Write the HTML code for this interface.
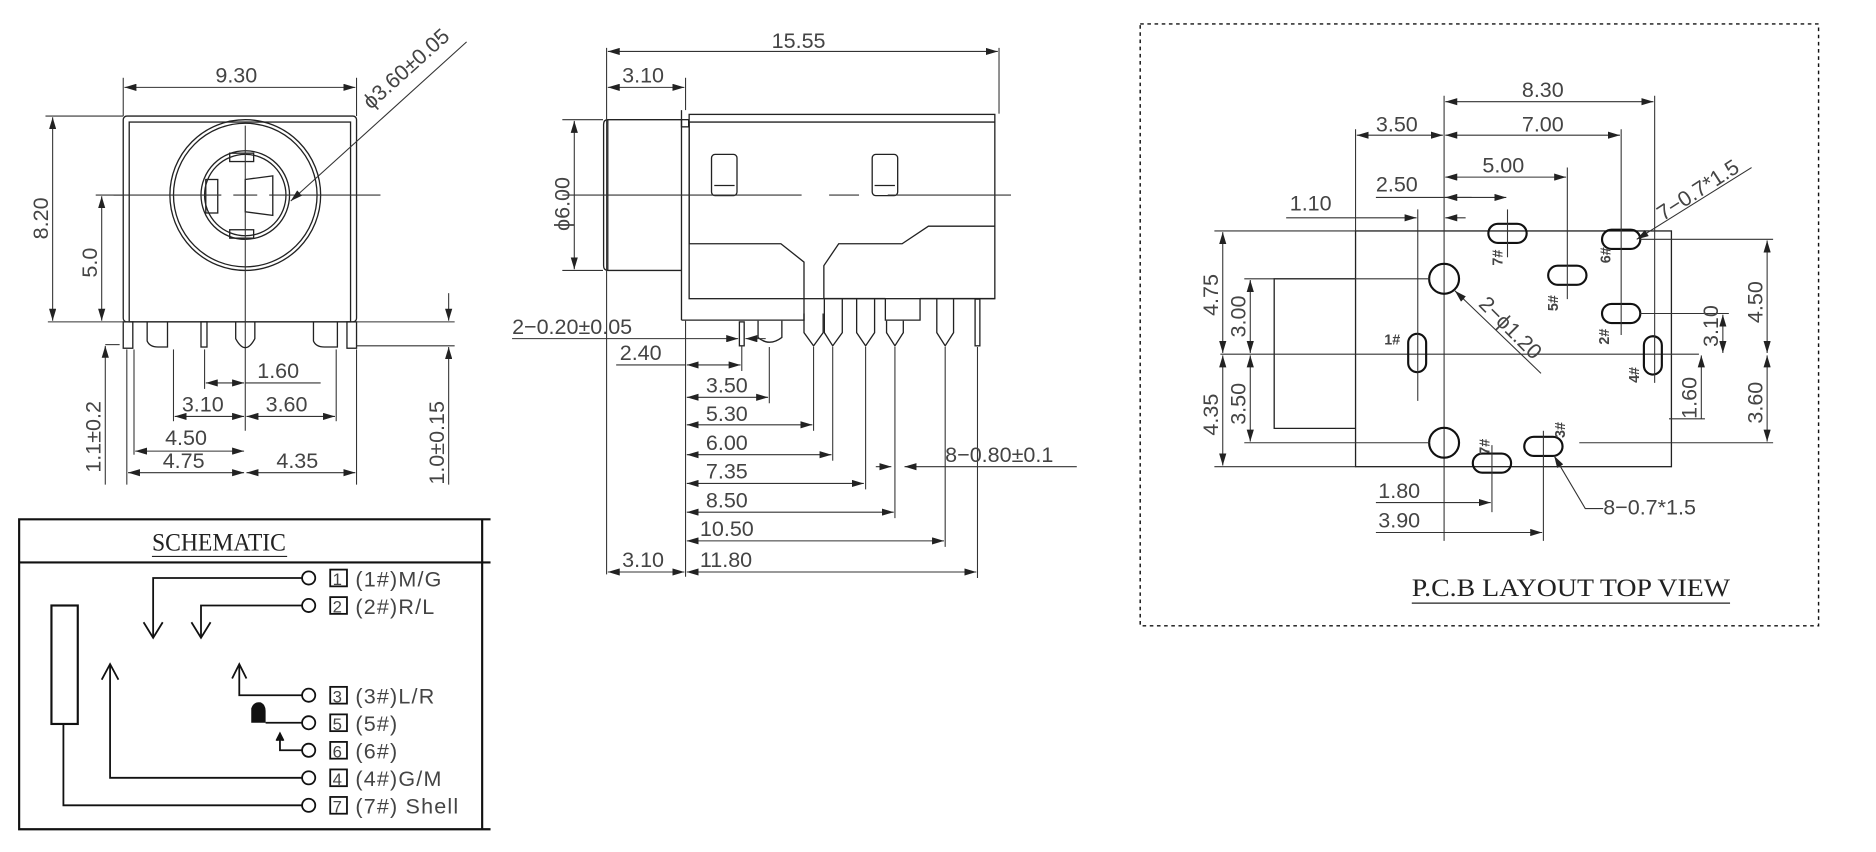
<!DOCTYPE html>
<html><head><meta charset="utf-8"><style>
html,body{margin:0;padding:0;background:#fff;}
svg{display:block;}
text{font-family:"Liberation Sans",sans-serif;fill:#444;}
.d{stroke:#333;stroke-width:0.9;fill:none;}
.o{stroke:#222;stroke-width:1.1;fill:none;}
.k{stroke:#111;stroke-width:1.8;fill:none;}
.t{font-size:18px;}
.s{font-family:"Liberation Serif",serif;fill:#222;}
</style></head><body>
<svg width="1876" height="852" viewBox="0 0 1568 712" preserveAspectRatio="none" xmlns="http://www.w3.org/2000/svg">
<defs>
<marker id="a" viewBox="0 0 10 6" refX="10" refY="3" markerWidth="10" markerHeight="6" orient="auto-start-reverse" markerUnits="userSpaceOnUse"><path d="M0,0 L10,3 L0,6 z" fill="#222"/></marker>
</defs>
<rect x="0" y="0" width="1568" height="712" fill="#fff"/>

<!-- ===== FRONT VIEW ===== -->
<g>
<rect class="o" x="103" y="97" width="195" height="172" rx="3"/>
<rect class="o" x="108" y="102" width="185" height="167"/>
<circle class="o" cx="205" cy="163" r="63"/>
<circle class="o" cx="205" cy="163" r="60"/>
<circle class="o" cx="205" cy="163" r="37"/>
<circle class="o" cx="205" cy="163" r="34"/>
<rect class="o" x="192" y="128" width="20" height="7"/>
<rect class="o" x="192" y="192" width="20" height="7"/>
<path class="o" d="M205 150 L228 147 L228 180 L205 177 Z"/>
<rect class="o" x="172" y="150" width="10" height="28"/>
<line class="d" x1="95" y1="163" x2="185" y2="163"/><line class="d" x1="195" y1="163" x2="215" y2="163"/><line class="d" x1="225" y1="163" x2="318" y2="163"/>
<line class="d" x1="205" y1="105" x2="205" y2="360"/>
<rect class="o" x="103" y="269" width="8" height="22"/>
<rect class="o" x="290" y="269" width="8" height="22"/>
<path class="o" d="M123 269 V285 Q125 290 132 290 H140 V269"/>
<path class="o" d="M262 269 V285 Q264 290 271 290 H282 V269"/>
<rect class="o" x="168" y="269" width="5" height="21"/>
<path class="o" d="M197 269 V283 Q205 298 213 283 V269"/>
<line class="d" x1="103" y1="97" x2="103" y2="65"/><line class="d" x1="298" y1="97" x2="298" y2="65"/>
<line class="d" x1="104" y1="73" x2="297" y2="73" marker-start="url(#a)" marker-end="url(#a)"/>
<text class="t" x="180" y="69">9.30</text>
<line class="d" x1="38" y1="97" x2="103" y2="97"/><line class="d" x1="40" y1="269" x2="110" y2="269"/>
<line class="d" x1="44" y1="98" x2="44" y2="268" marker-start="url(#a)" marker-end="url(#a)"/>
<text class="t" transform="translate(40,200) rotate(-90)">8.20</text>
<line class="d" x1="80" y1="163" x2="103" y2="163"/>
<line class="d" x1="85" y1="164" x2="85" y2="268" marker-start="url(#a)" marker-end="url(#a)"/>
<text class="t" transform="translate(81,232) rotate(-90)">5.0</text>
<line class="d" x1="243" y1="168" x2="390" y2="35" marker-start="url(#a)"/>
<text class="t" transform="translate(310,92) rotate(-42)" font-size="17">ϕ3.60±0.05</text>
<line class="d" x1="298" y1="269" x2="380" y2="269"/><line class="d" x1="298" y1="289" x2="380" y2="289"/>
<line class="d" x1="375" y1="245" x2="375" y2="268" marker-end="url(#a)"/>
<line class="d" x1="375" y1="405" x2="375" y2="290" marker-end="url(#a)"/>
<text class="t" transform="translate(371,405) rotate(-90)">1.0±0.15</text>
<line class="d" x1="88" y1="288" x2="100" y2="288"/>
<line class="d" x1="88" y1="405" x2="88" y2="289" marker-end="url(#a)"/>
<text class="t" transform="translate(84,395) rotate(-90)">1.1±0.2</text>
<line class="d" x1="106" y1="292" x2="106" y2="405"/><line class="d" x1="112" y1="292" x2="112" y2="380"/>
<line class="d" x1="145" y1="292" x2="145" y2="352"/><line class="d" x1="171" y1="292" x2="171" y2="325"/>
<line class="d" x1="281" y1="292" x2="281" y2="352"/><line class="d" x1="298" y1="292" x2="298" y2="405"/>
<line class="d" x1="172" y1="320" x2="204" y2="320" marker-start="url(#a)" marker-end="url(#a)"/>
<line class="d" x1="205" y1="320" x2="268" y2="320"/>
<text class="t" x="215" y="316">1.60</text>
<line class="d" x1="146" y1="348" x2="204" y2="348" marker-start="url(#a)" marker-end="url(#a)"/>
<text class="t" x="152" y="344">3.10</text>
<line class="d" x1="206" y1="348" x2="280" y2="348" marker-start="url(#a)" marker-end="url(#a)"/>
<text class="t" x="222" y="344">3.60</text>
<line class="d" x1="113" y1="377" x2="204" y2="377" marker-start="url(#a)" marker-end="url(#a)"/>
<text class="t" x="138" y="372">4.50</text>
<line class="d" x1="107" y1="395" x2="204" y2="395" marker-start="url(#a)" marker-end="url(#a)"/>
<text class="t" x="136" y="391">4.75</text>
<line class="d" x1="206" y1="395" x2="297" y2="395" marker-start="url(#a)" marker-end="url(#a)"/>
<text class="t" x="231" y="391">4.35</text>
</g>

<!-- ===== SIDE VIEW ===== -->
<g>
<path class="o" d="M569.6 100 H508 Q504.5 100 504.5 104 V222 Q504.5 226 508 226 H569.6"/>
<line class="o" x1="508" y1="100" x2="508" y2="226"/>
<line class="o" x1="569.6" y1="92" x2="569.6" y2="267.5"/>
<rect class="o" x="569.6" y="100" width="6" height="6"/>
<rect class="o" x="576" y="95.6" width="255.5" height="154"/>
<line class="o" x1="576" y1="102" x2="831.5" y2="102"/>
<path class="o" d="M576 102 V203.7 H652.7 L672 219 V267.5 H569.6" fill="#fff"/>
<path class="o" d="M688.6 249.5 V222 L701 203.7 H754 L776 189 H831.5"/>
<path class="o" d="M740 249.5 V267.5 H769 V249.5"/>
<line class="o" x1="688.6" y1="249.5" x2="740" y2="249.5"/><line class="o" x1="769" y1="249.5" x2="831.5" y2="249.5"/>
<rect class="o" x="594.7" y="129" width="21.3" height="34.5" rx="3"/>
<line class="o" x1="597" y1="155" x2="614" y2="155"/>
<rect class="o" x="729" y="129" width="21.3" height="34.5" rx="3"/>
<line class="o" x1="731" y1="155" x2="748" y2="155"/>
<line class="d" x1="470" y1="163" x2="670" y2="163"/><line class="d" x1="693" y1="163" x2="718" y2="163"/><line class="d" x1="742" y1="163" x2="845" y2="163"/>
<g class="o">
<path d="M672 262 V278 L680 289 L688 278 V262"/>
<path d="M689 250 V278 L696 289 L704 278 V250"/>
<path d="M716 250 V278 L723.5 289 L731 278 V250"/>
<path d="M741 268 V278 L748 289 L755 278 V268"/>
<path d="M783 250 V278 L790 289 L797 278 V250"/>
<rect x="815" y="250" width="4" height="39"/>
<rect x="618" y="269" width="4" height="20"/>
<path d="M633.6 268 V282 Q643 290 653.5 282 V268"/>
</g>
<line class="d" x1="507" y1="40" x2="507" y2="480"/><line class="d" x1="835" y1="40" x2="835" y2="95"/>
<line class="d" x1="508" y1="43" x2="834" y2="43" marker-start="url(#a)" marker-end="url(#a)"/>
<text class="t" x="645" y="40">15.55</text>
<line class="d" x1="573" y1="65" x2="573" y2="92"/>
<line class="d" x1="508" y1="73" x2="572" y2="73" marker-start="url(#a)" marker-end="url(#a)"/>
<text class="t" x="520" y="69">3.10</text>
<line class="d" x1="470" y1="100" x2="504" y2="100"/><line class="d" x1="470" y1="226" x2="504" y2="226"/>
<line class="d" x1="480" y1="101" x2="480" y2="225" marker-start="url(#a)" marker-end="url(#a)"/>
<text class="t" transform="translate(476,193) rotate(-90)">ϕ6.00</text>
<line class="d" x1="573" y1="268" x2="573" y2="482"/>
<line class="d" x1="428" y1="283" x2="617" y2="283" marker-end="url(#a)"/>
<line class="d" x1="640" y1="283" x2="623" y2="283" marker-end="url(#a)"/>
<text class="t" x="428" y="279">2−0.20±0.05</text>
<line class="d" x1="620" y1="289" x2="620" y2="310"/>
<line class="d" x1="574" y1="305" x2="619" y2="305" marker-start="url(#a)" marker-end="url(#a)"/>
<line class="d" x1="515" y1="305" x2="573" y2="305"/>
<text class="t" x="518" y="301">2.40</text>
<line class="d" x1="643" y1="290" x2="643" y2="337"/>
<line class="d" x1="574" y1="332" x2="642" y2="332" marker-start="url(#a)" marker-end="url(#a)"/>
<text class="t" x="590" y="328">3.50</text>
<line class="d" x1="680" y1="290" x2="680" y2="360"/>
<line class="d" x1="574" y1="355" x2="679" y2="355" marker-start="url(#a)" marker-end="url(#a)"/>
<text class="t" x="590" y="352">5.30</text>
<line class="d" x1="696" y1="290" x2="696" y2="385"/>
<line class="d" x1="574" y1="380" x2="695" y2="380" marker-start="url(#a)" marker-end="url(#a)"/>
<text class="t" x="590" y="376">6.00</text>
<line class="d" x1="723.5" y1="290" x2="723.5" y2="409"/>
<line class="d" x1="574" y1="404" x2="722" y2="404" marker-start="url(#a)" marker-end="url(#a)"/>
<text class="t" x="590" y="400">7.35</text>
<line class="d" x1="748" y1="290" x2="748" y2="433"/>
<line class="d" x1="574" y1="428" x2="747" y2="428" marker-start="url(#a)" marker-end="url(#a)"/>
<text class="t" x="590" y="424">8.50</text>
<line class="d" x1="790" y1="290" x2="790" y2="457"/>
<line class="d" x1="574" y1="452" x2="789" y2="452" marker-start="url(#a)" marker-end="url(#a)"/>
<text class="t" x="585" y="448">10.50</text>
<line class="d" x1="817" y1="290" x2="817" y2="483"/>
<line class="d" x1="574" y1="478" x2="816" y2="478" marker-start="url(#a)" marker-end="url(#a)"/>
<text class="t" x="585" y="474">11.80</text>
<line class="d" x1="508" y1="478" x2="572" y2="478" marker-start="url(#a)" marker-end="url(#a)"/>
<text class="t" x="520" y="474">3.10</text>
<line class="d" x1="900" y1="390" x2="756" y2="390" marker-end="url(#a)"/>
<line class="d" x1="732" y1="390" x2="745" y2="390" marker-end="url(#a)"/>
<text class="t" x="790" y="386">8−0.80±0.1</text>
</g>

<!-- ===== SCHEMATIC ===== -->
<g>
<path class="k" d="M410 434 H16 V693 H410"/>
<line class="k" x1="16" y1="470" x2="410" y2="470"/>
<line class="k" x1="403" y1="434" x2="403" y2="693"/>
<text class="s" x="127" y="460" font-size="21" textLength="112" lengthAdjust="spacingAndGlyphs">SCHEMATIC</text>
<line x1="127" y1="465" x2="240" y2="465" stroke="#222" stroke-width="1"/>
<rect class="k" x="43" y="506" width="22" height="99" stroke-width="1.5"/>
<g stroke="#111" stroke-width="1.5" fill="none">
<path d="M252 483 H128 V532"/><path d="M120 520 L128 533 L136 520"/>
<path d="M252 506 H168 V532"/><path d="M160 520 L168 533 L176 520"/>
<path d="M252 581 H200 V556"/><path d="M194 567 L200 555 L206 567"/>
<path d="M252 604 H222"/>
<path d="M252 627 H234 V615"/><path d="M231 619 L234 613 L237 619" fill="#111"/>
<path d="M252 650 H92 V556"/><path d="M85 568 L92 555 L99 568"/>
<path d="M252 673 H53 V605"/>
<circle cx="258" cy="483" r="5.5"/><circle cx="258" cy="506" r="5.5"/><circle cx="258" cy="581" r="5.5"/>
<circle cx="258" cy="604" r="5.5"/><circle cx="258" cy="627" r="5.5"/><circle cx="258" cy="650" r="5.5"/><circle cx="258" cy="673" r="5.5"/>
<rect x="276" y="476" width="14" height="14"/><rect x="276" y="499" width="14" height="14"/>
<rect x="276" y="574" width="14" height="14"/><rect x="276" y="597" width="14" height="14"/>
<rect x="276" y="620" width="14" height="14"/><rect x="276" y="643" width="14" height="14"/><rect x="276" y="666" width="14" height="14"/>
</g>
<path d="M210 604 V592 Q212 586 218 587 Q222 589 222 594 V604 Z" fill="#111"/>
<g font-size="18" fill="#222" style="font-family:'Liberation Sans',sans-serif" letter-spacing="1">
<text x="278" y="489" font-size="14" letter-spacing="0">1</text><text x="297" y="490" fill="#222">(1#)M/G</text>
<text x="278" y="512" font-size="14" letter-spacing="0">2</text><text x="297" y="513" fill="#222">(2#)R/L</text>
<text x="278" y="587" font-size="14" letter-spacing="0">3</text><text x="297" y="588" fill="#222">(3#)L/R</text>
<text x="278" y="610" font-size="14" letter-spacing="0">5</text><text x="297" y="611" fill="#222">(5#)</text>
<text x="278" y="633" font-size="14" letter-spacing="0">6</text><text x="297" y="634" fill="#222">(6#)</text>
<text x="278" y="656" font-size="14" letter-spacing="0">4</text><text x="297" y="657" fill="#222">(4#)G/M</text>
<text x="278" y="679" font-size="14" letter-spacing="0">7</text><text x="297" y="680" fill="#222">(7#) Shell</text>
</g>
</g>

<!-- ===== PCB LAYOUT ===== -->
<g>
<rect x="953" y="20" width="567" height="503" fill="none" stroke="#111" stroke-width="1.2" stroke-dasharray="3,3"/>
<rect class="o" x="1133" y="193" width="264" height="197"/>
<path class="o" d="M1133 233 H1065 V358 H1133"/>
<line class="d" x1="1020" y1="296" x2="1420" y2="296"/>
<line class="d" x1="1207" y1="80" x2="1207" y2="452"/>
<circle class="k" cx="1207" cy="233" r="12.5" stroke-width="1.6"/>
<circle class="k" cx="1207" cy="370" r="12.5" stroke-width="1.6"/>
<g class="k" stroke-width="1.6">
<rect x="1244" y="187" width="32" height="16" rx="8"/>
<rect x="1339" y="192" width="32" height="16" rx="8"/>
<rect x="1294" y="222" width="32" height="16" rx="8"/>
<rect x="1339" y="254" width="32" height="16" rx="8"/>
<rect x="1177" y="279" width="15" height="32" rx="7.5"/>
<rect x="1374" y="281" width="15" height="32" rx="7.5"/>
<rect x="1274" y="365" width="32" height="16" rx="8"/>
<rect x="1231" y="379" width="32" height="16" rx="8"/>
</g>
<g class="d">
<line x1="1185" y1="175" x2="1185" y2="335"/>
<line x1="1260" y1="175" x2="1260" y2="215"/>
<line x1="1310" y1="140" x2="1310" y2="250"/>
<line x1="1355" y1="108" x2="1355" y2="280"/>
<line x1="1383" y1="80" x2="1383" y2="320"/>
<line x1="1290" y1="360" x2="1290" y2="452"/>
<line x1="1247" y1="372" x2="1247" y2="428"/>
<line x1="1133" y1="108" x2="1133" y2="193"/>
<line x1="1015" y1="193" x2="1133" y2="193"/>
<line x1="1015" y1="390" x2="1133" y2="390"/>
<line x1="1040" y1="233" x2="1195" y2="233"/>
<line x1="1040" y1="370" x2="1195" y2="370"/>
<line x1="1370" y1="200" x2="1482" y2="200"/>
<line x1="1320" y1="370" x2="1482" y2="370"/>
<line x1="1370" y1="262" x2="1445" y2="262"/>
<line x1="1395" y1="350" x2="1425" y2="350"/>
</g>
<line class="d" x1="1208" y1="85" x2="1382" y2="85" marker-start="url(#a)" marker-end="url(#a)"/>
<text class="t" x="1272" y="81">8.30</text>
<line class="d" x1="1134" y1="113" x2="1206" y2="113" marker-start="url(#a)" marker-end="url(#a)"/>
<text class="t" x="1150" y="110">3.50</text>
<line class="d" x1="1208" y1="113" x2="1354" y2="113" marker-start="url(#a)" marker-end="url(#a)"/>
<text class="t" x="1272" y="110">7.00</text>
<line class="d" x1="1208" y1="148" x2="1309" y2="148" marker-start="url(#a)" marker-end="url(#a)"/>
<text class="t" x="1239" y="144">5.00</text>
<line class="d" x1="1150" y1="165" x2="1259" y2="165" marker-end="url(#a)"/>
<line class="d" x1="1230" y1="165" x2="1208" y2="165" marker-end="url(#a)"/>
<text class="t" x="1150" y="160">2.50</text>
<line class="d" x1="1075" y1="182" x2="1184" y2="182" marker-end="url(#a)"/>
<line class="d" x1="1225" y1="182" x2="1208" y2="182" marker-end="url(#a)"/>
<text class="t" x="1078" y="176">1.10</text>
<line class="d" x1="1022" y1="194" x2="1022" y2="295" marker-start="url(#a)" marker-end="url(#a)"/>
<text class="t" transform="translate(1018,264) rotate(-90)">4.75</text>
<line class="d" x1="1022" y1="297" x2="1022" y2="389" marker-start="url(#a)" marker-end="url(#a)"/>
<text class="t" transform="translate(1018,364) rotate(-90)">4.35</text>
<line class="d" x1="1045" y1="234" x2="1045" y2="295" marker-start="url(#a)" marker-end="url(#a)"/>
<text class="t" transform="translate(1041,282) rotate(-90)">3.00</text>
<line class="d" x1="1045" y1="297" x2="1045" y2="369" marker-start="url(#a)" marker-end="url(#a)"/>
<text class="t" transform="translate(1041,355) rotate(-90)">3.50</text>
<line class="d" x1="1477" y1="201" x2="1477" y2="295" marker-start="url(#a)" marker-end="url(#a)"/>
<text class="t" transform="translate(1473,270) rotate(-90)">4.50</text>
<line class="d" x1="1477" y1="297" x2="1477" y2="369" marker-start="url(#a)" marker-end="url(#a)"/>
<text class="t" transform="translate(1473,354) rotate(-90)">3.60</text>
<line class="d" x1="1440" y1="263" x2="1440" y2="295" marker-start="url(#a)" marker-end="url(#a)"/>
<text class="t" transform="translate(1436,290) rotate(-90)">3.10</text>
<line class="d" x1="1422" y1="350" x2="1422" y2="297" marker-end="url(#a)"/>
<text class="t" transform="translate(1418,350) rotate(-90)">1.60</text>
<line class="d" x1="1150" y1="420" x2="1246" y2="420" marker-end="url(#a)"/>
<text class="t" x="1152" y="416">1.80</text>
<line class="d" x1="1150" y1="445" x2="1289" y2="445" marker-end="url(#a)"/>
<text class="t" x="1152" y="441">3.90</text>
<line class="d" x1="1216" y1="243" x2="1288" y2="312" marker-start="url(#a)"/>
<text class="t" transform="translate(1235,255) rotate(45)">2−ϕ1.20</text>
<path class="d" d="M1299 381 L1325 425 H1340" marker-start="url(#a)"/>
<text class="t" x="1340" y="430">8−0.7*1.5</text>
<line class="d" x1="1368" y1="200" x2="1464" y2="140" marker-start="url(#a)"/>
<text class="t" transform="translate(1390,185) rotate(-33)">7−0.7*1.5</text>
<g font-size="12" font-weight="bold" fill="#111" style="font-family:'Liberation Sans',sans-serif">
<text x="1157" y="288" fill="#111">1#</text>
<text transform="translate(1256,222) rotate(-90)" fill="#111">7#</text>
<text transform="translate(1346,220) rotate(-90)" fill="#111">6#</text>
<text transform="translate(1302,260) rotate(-90)" fill="#111">5#</text>
<text transform="translate(1345,288) rotate(-90)" fill="#111">2#</text>
<text transform="translate(1370,320) rotate(-90)" fill="#111">4#</text>
<text transform="translate(1308,366) rotate(-90)" fill="#111">3#</text>
<text transform="translate(1245,380) rotate(-90)" fill="#111">7#</text>
</g>
<text class="s" x="1180" y="498" font-size="21" textLength="266" lengthAdjust="spacingAndGlyphs">P.C.B LAYOUT TOP VIEW</text>
<line x1="1180" y1="504" x2="1446" y2="504" stroke="#222" stroke-width="1"/>
</g>
</svg>
</body></html>
